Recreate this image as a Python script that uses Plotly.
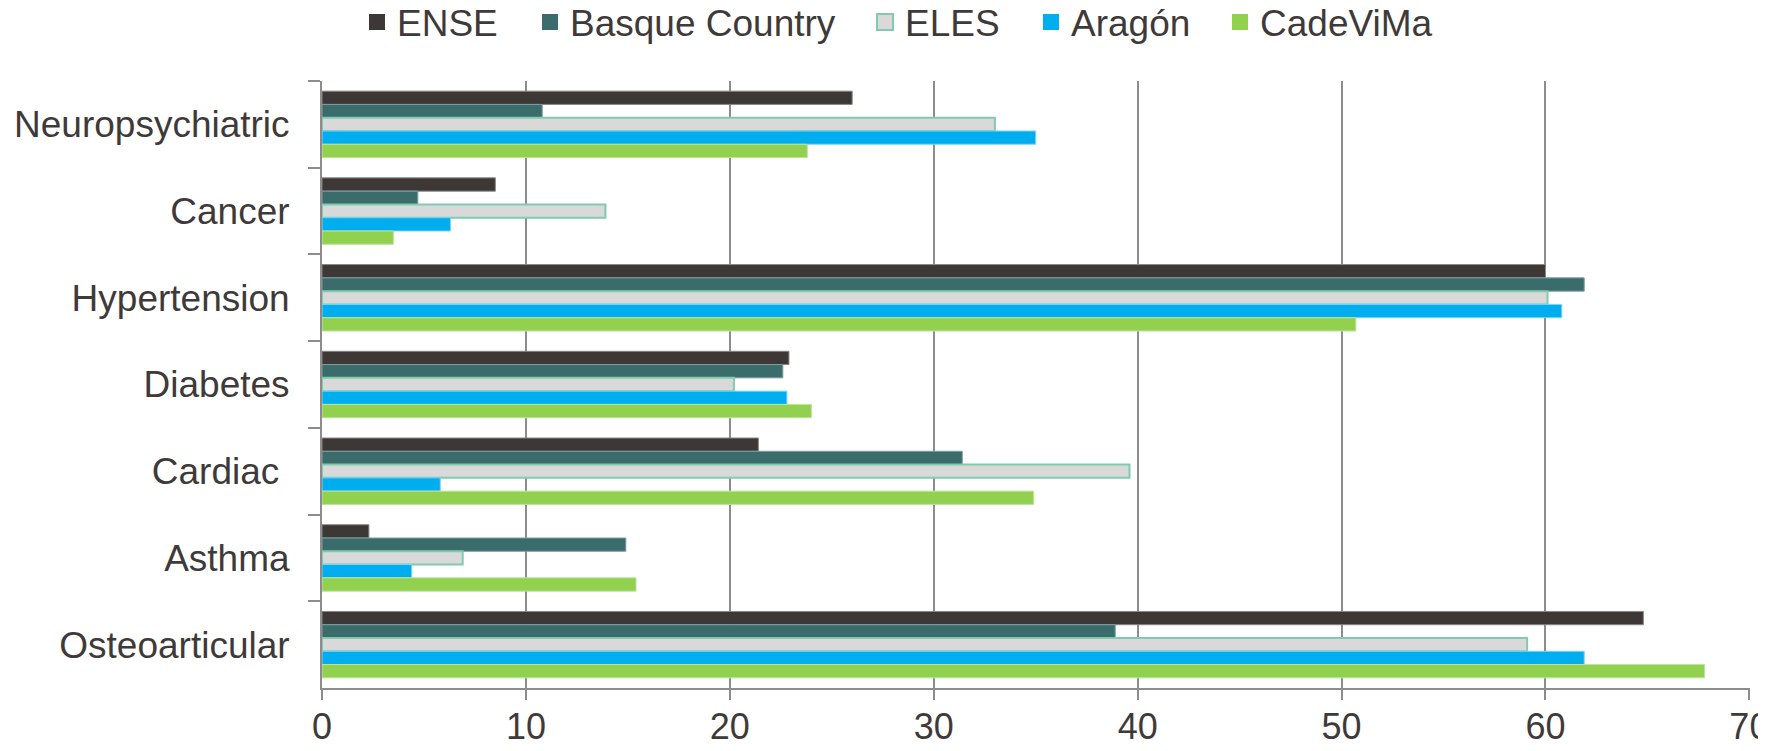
import plotly.graph_objects as go

# ---- data ----
categories = ["Neuropsychiatric", "Cancer", "Hypertension", "Diabetes",
              "Cardiac\u00a0", "Asthma", "Osteoarticular"]
series_names = ["ENSE", "Basque Country", "ELES", "Aragón", "CadeViMa"]
ense = [26.0, 8.5, 60.0, 22.9, 21.4, 2.3, 64.8]
basque = [10.8, 4.7, 61.9, 22.6, 31.4, 14.9, 38.9]
eles = [33.0, 13.9, 60.1, 20.2, 39.6, 6.9, 59.1]
aragon = [35.0, 6.3, 60.8, 22.8, 5.8, 4.4, 61.9]
cadevima = [23.8, 3.5, 50.7, 24.0, 34.9, 15.4, 67.8]
x_tick_values = [0, 10, 20, 30, 40, 50, 60, 70]

# ---- styles ----
fill_colors = ["#3D3736", "#3B6C6C", "#D9D9D9", "#00AEEF", "#92D050"]
line_colors = ["#8A8686", "#7E9E9E", "#7FCBAE", "#7FD3F5", "#BDE39A"]
line_widths = [1, 1, 2, 1, 1]
PAGE_OFF = 8  # default body margin of the html page
legend_left_page = [357, 530, 865, 1031, 1220]
legend_ids = ["legend", "legend2", "legend3", "legend4", "legend5"]

W, H = 1766 - PAGE_OFF, 751 - PAGE_OFF
text_color = "#3F3A3A"
axis_color = "#8C8C8C"
font_family = "Liberation Sans, Arial, sans-serif"

fig = go.Figure()
values = [ense, basque, eles, aragon, cadevima]
for i, name in enumerate(series_names):
    fig.add_trace(go.Bar(
        name=name, y=categories, x=values[i], orientation="h",
        marker=dict(color=fill_colors[i],
                    line=dict(color=line_colors[i], width=line_widths[i])),
        showlegend=False,
    ))
for i, name in enumerate(series_names):
    fig.add_trace(go.Scatter(
        name=name, x=[None], y=[None], mode="markers",
        marker=dict(symbol="square", size=16, color=fill_colors[i],
                    line=dict(color=line_colors[i] if i == 2 else fill_colors[i],
                              width=2 if i == 2 else 0)),
        legend=legend_ids[i], showlegend=True,
    ))

layout_legends = {}
for i, lid in enumerate(legend_ids):
    layout_legends[lid] = dict(
        x=(legend_left_page[i] - PAGE_OFF) / W, xref="container", xanchor="left",
        y=1 - (22.5 - PAGE_OFF) / H, yref="container", yanchor="middle",
        orientation="h", bgcolor="rgba(0,0,0,0)", borderwidth=0,
        itemsizing="trace",
        font=dict(family=font_family, size=37, color=text_color),
    )

fig.update_layout(
    width=W, height=H,
    margin=dict(l=322 - PAGE_OFF, r=16, t=81 - PAGE_OFF, b=63, autoexpand=False),
    paper_bgcolor="white", plot_bgcolor="white",
    barmode="group", bargap=0.234, bargroupgap=0,
    font=dict(family=font_family, color=text_color),
    **layout_legends,
)
fig.update_xaxes(
    range=[0, 70.03], tickvals=x_tick_values, ticktext=[str(v) for v in x_tick_values],
    showgrid=True, gridcolor=axis_color, gridwidth=1.5, zeroline=False,
    showline=True, linecolor=axis_color, linewidth=2,
    ticks="outside", ticklen=10, tickwidth=1.5, tickcolor=axis_color,
    ticklabelstandoff=-4, ticklabeloverflow="allow", automargin=False,
    tickfont=dict(family=font_family, size=36, color=text_color),
)
fig.update_yaxes(
    type="category", autorange="reversed", tickson="boundaries",
    showgrid=False, zeroline=False,
    showline=True, linecolor=axis_color, linewidth=2,
    ticks="outside", ticklen=12, tickwidth=2, tickcolor=axis_color,
    ticklabelstandoff=23, automargin=False,
    tickfont=dict(family=font_family, size=37, color=text_color),
)

fig.write_html("out.html")
